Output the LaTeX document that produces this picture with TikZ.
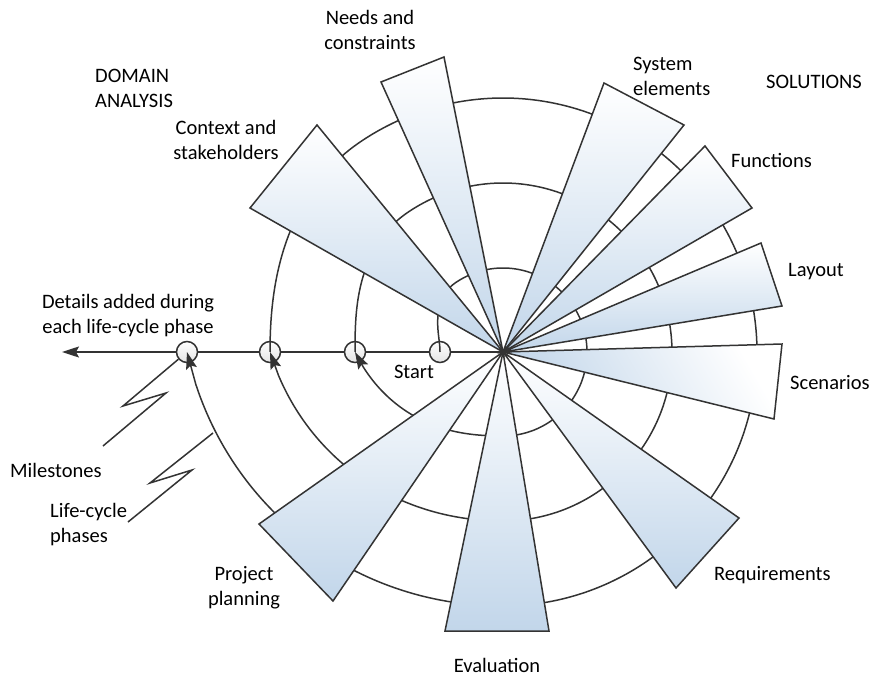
\documentclass[tikz,border=0pt]{standalone}
\usepackage{fontspec}
\setmainfont{Carlito}
\usetikzlibrary{arrows.meta}
\definecolor{ink}{HTML}{333333}
\definecolor{wedgeblue}{RGB}{194,214,234}
\definecolor{ringgray}{RGB}{228,228,228}

\begin{document}
\begin{tikzpicture}[x=1pt, y=-1pt,
  inkline/.style={draw=ink, line width=1.5pt},
  wedge/.style={inkline, line join=miter, top color=white, bottom color=wedgeblue},
  txt/.style={font=\fontsize{20.5}{25}\selectfont, inner sep=0pt, text=black},
  milestone/.style={circle, draw=ink, line width=1.5pt, minimum size=21pt,
                    inner sep=0pt, top color=white, bottom color=ringgray},
  headed/.style={-{Stealth[length=17pt, width=11pt, inset=3pt]}},
  % radius of one turn of the spiral, angle measured clockwise from the left
  declare function={
    sr(\p,\s,\R,\e) = (\p<55) ? (\s+(\R-\s)*(3*(\p/55)^2-2*(\p/55)^3))
                    : ((\p<270) ? \R
                    : (\R+(\e-\R)*((\p-270)/90)^2*(1.25-0.25*(\p-270)/90)));
  }]

\fill[white] (0,0) rectangle (873,679);
\useasboundingbox (0,0) rectangle (873,679);

% hub and the timeline to the left
\coordinate (c) at (503,352);
\coordinate (tl) at (62,352);
\draw[inkline, headed] (c) -- (tl);

% milestones on the timeline
\node[milestone] (m0) at (440,352) {};
\node[milestone] (m1) at (355,352) {};
\node[milestone] (m2) at (270,352) {};
\node[milestone] (m3) at (187,352) {};

% the three life-cycle turns of the spiral
\foreach \s/\R/\e/\m in {63/84/148/m1, 148/169/233/m2, 233/254/316/m3}{
  \draw[inkline, headed] plot[domain=0:354, samples=200, variable=\p, smooth]
      ({503-sr(\p,\s,\R,\e)*cos(\p)}, {352-sr(\p,\s,\R,\e)*sin(\p)})
      -- (\m.center);
}

% wedges radiating from the hub
\draw[wedge] (c) -- (250,208) -- (317,125) -- cycle;
\draw[wedge] (c) -- (381,82) -- (444,57) -- cycle;
\draw[wedge] (c) -- (604,83) -- (684,125) -- cycle;
\draw[wedge] (c) -- (705,146) -- (752,208) -- cycle;
\draw[wedge] (c) -- (761,243) -- (782,306) -- cycle;
\draw[wedge, shading angle=-60] (c) -- (782,344) -- (774,419) -- cycle;
\draw[wedge] (c) -- (739,518) -- (676,588) -- cycle;
\draw[wedge] (c) -- (549,631) -- (445,631) -- cycle;
\draw[wedge] (c) -- (333,601) -- (259,524) -- cycle;

% lightning pointers to milestones and phases
\coordinate (za) at (123,406);
\coordinate (zb) at (166,393);
\coordinate (zc) at (103,446);
\draw[inkline] (m3) -- (za) -- (zb) -- (zc);
\coordinate (ph) at (213,433);
\coordinate (pa) at (150,483);
\coordinate (pb) at (192,470);
\coordinate (pc) at (128,522);
\draw[inkline] (ph) -- (pa) -- (pb) -- (pc);

% labels
\node[txt, align=left, anchor=west] (dom) at (95,88) {DOMAIN\\ANALYSIS};
\node[txt, align=center] (needs) at (370,30) {Needs and\\constraints};
\node[txt, align=left, anchor=west] (syst) at (633,76) {System\\elements};
\node[txt, anchor=west] (sol) at (766,82) {SOLUTIONS};
\node[txt, align=center] (ctx) at (226,140) {Context and\\stakeholders};
\node[txt, anchor=west] (fun) at (731,160) {Functions};
\node[txt, anchor=west] (lay) at (788,272) {Layout};
\node[txt, align=center] (det) at (128,316) {Details added during\\each life-cycle phase};
\node[txt] (start) at (414,372) {Start};
\node[txt, anchor=west] (scn) at (790,383) {Scenarios};
\node[txt, anchor=west] (mil) at (10,470) {Milestones};
\node[txt, align=left, anchor=west] (lcp) at (50,525) {Life-cycle\\phases};
\node[txt, align=center] (prj) at (244,588) {Project\\planning};
\node[txt, anchor=west] (req) at (714,575) {Requirements};
\node[txt] (eva) at (497,665) {Evaluation};
\end{tikzpicture}
\end{document}
